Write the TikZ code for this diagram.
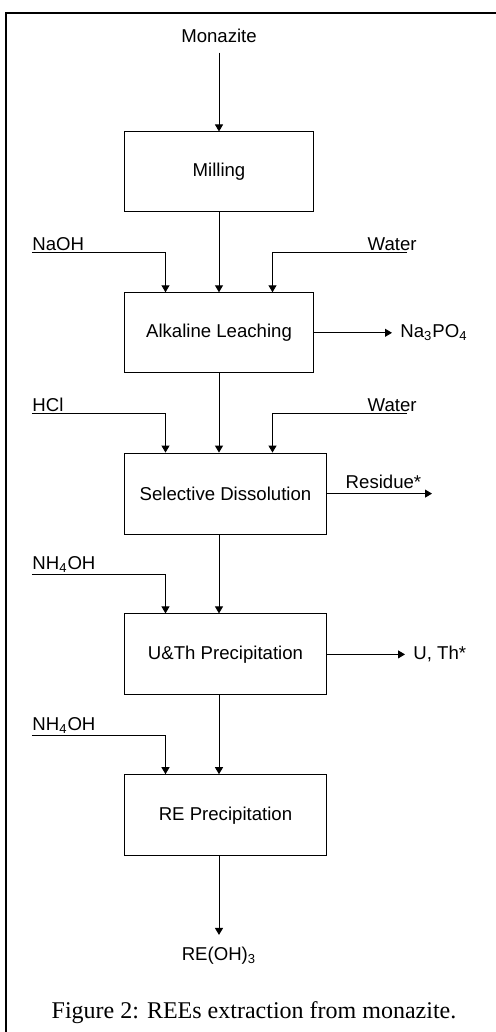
\documentclass[tikz,border=0pt]{standalone}
\usepackage{fontspec}
\setmainfont{Liberation Serif}
\newfontfamily\arialfont{Liberation Sans}
\usetikzlibrary{shapes,arrows.meta}
\tikzstyle{process} = [rectangle, minimum width=94pt, minimum height=40pt, text centered, draw=black, line width=0.5pt, font=\arialfont\fontsize{9.3}{11}\selectfont]
\tikzstyle{wideprocess} = [process, minimum width=100.5pt, minimum height=40.5pt]
\tikzstyle{stream} = [inner sep=2pt, font=\arialfont\fontsize{9.3}{11}\selectfont]
\tikzstyle{feed} = [stream, inner xsep=0pt, inner ysep=1pt]
\tikzstyle{arrow} = [line width=0.5pt, -{Triangle[length=3.5pt,width=4pt]}]
\tikzstyle{frame} = [line width=1pt]

\begin{document}
\begin{tikzpicture}[node distance=80.4pt]
        \useasboundingbox (-109.5pt,86pt) rectangle (138.5pt,-430pt);
        \draw [frame] (-106.5pt,-440pt) |- (150pt,79.5pt);
        \node (milling) [process] {Milling};
        \node (monazite) [stream, above of=milling, yshift=-12.55pt] {Monazite};
        \node (alk) [process, below of=milling] {Alkaline Leaching};
        \node (sel) [wideprocess, below of=alk, xshift=3.25pt] {Selective Dissolution};
        \node (uth) [wideprocess, below of=sel] {U\&Th Precipitation};
        \node (re) [wideprocess, below of=uth] {RE Precipitation};
        \node (reoh) [stream, below of=re, xshift=-3.25pt, yshift=10pt] {RE(OH)\textsubscript{3}};
        \node (naoh) [feed, above of=alk, xshift=-93.5pt, yshift=-40.5pt, anchor=south west] {NaOH};
        \node (wat1) [feed, above of=alk, xshift=99pt, yshift=-40.5pt, anchor=south east] {Water};
        \node (napo) [stream, right of=alk, xshift=8.1pt, anchor=west] {Na\textsubscript{3}PO\textsubscript{4}};
        \node (hcl) [feed, above of=sel, xshift=-96.75pt, yshift=-40.5pt, anchor=south west] {HCl};
        \node (wat2) [feed, above of=sel, xshift=95.75pt, yshift=-40.5pt, anchor=south east] {Water};
        \node (resout) [coordinate, right of=sel, xshift=22.85pt] {};
        \node (nh1) [feed, above of=uth, xshift=-96.75pt, yshift=-40.5pt, anchor=south west] {NH\textsubscript{4}OH};
        \node (uthout) [stream, right of=uth, xshift=11.35pt, anchor=west] {U, Th*};
        \node (nh2) [feed, above of=re, xshift=-96.75pt, yshift=-40.5pt, anchor=south west] {NH\textsubscript{4}OH};
        \node (caption) [below of=re, xshift=14.25pt, yshift=-18.5pt, font=\fontsize{12}{14}\selectfont] {Figure 2: REEs extraction from monazite.};
        \coordinate (lcol) at ([xshift=-26.75pt]milling.center);
        \coordinate (rcol) at ([xshift=26.75pt]milling.center);
        \draw [arrow, shorten <=2.5pt] (monazite) -- (milling);
        \draw [arrow] (milling) -- (alk);
        \draw [arrow] (naoh.south west) -| (lcol |- alk.north);
        \draw [arrow] ([xshift=-5pt]wat1.south east) -| (rcol |- alk.north);
        \draw [arrow, shorten >=2pt] (alk.east) -- (alk.east -| napo.west);
        \draw [arrow] (alk.south) -- (alk.south |- sel.north);
        \draw [arrow] (hcl.south west) -| (lcol |- sel.north);
        \draw [arrow] ([xshift=-5pt]wat2.south east) -| (rcol |- sel.north);
        \draw [arrow] (sel.east) -- node[stream, above, pos=0.54] {Residue*} (resout);
        \draw [arrow] (milling |- sel.south) -- (milling |- uth.north);
        \draw [arrow] (nh1.south west) -| (lcol |- uth.north);
        \draw [arrow, shorten >=2pt] (uth.east) -- (uth.east -| uthout.west);
        \draw [arrow] (milling |- uth.south) -- (milling |- re.north);
        \draw [arrow] (nh2.south west) -| (lcol |- re.north);
        \draw [arrow, shorten >=4pt] (milling |- re.south) -- (reoh);
    \end{tikzpicture}
\end{document}
